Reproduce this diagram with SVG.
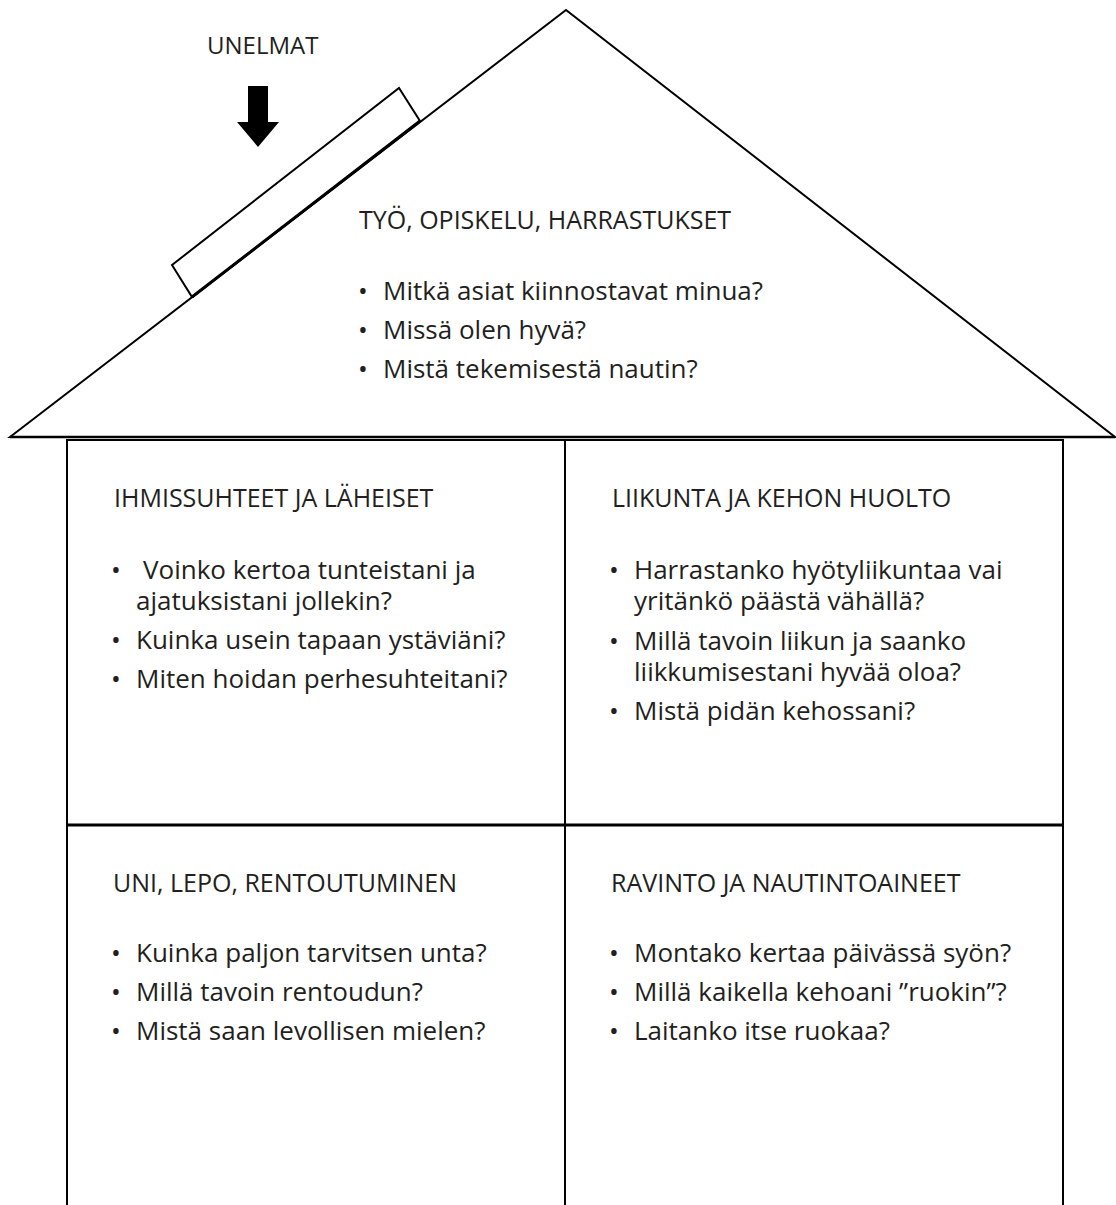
<svg xmlns="http://www.w3.org/2000/svg" width="1116" height="1205" viewBox="0 0 1116 1205">
<style>
.ln{fill:none;stroke:#000;stroke-width:2;stroke-linejoin:miter}
.t{font-family:"Open Sans","Noto Sans","Liberation Sans",sans-serif;font-size:25px;fill:#231f20}
.u{font-family:"Open Sans","Noto Sans","Liberation Sans",sans-serif;font-size:24px;fill:#231f20}
.b{font-family:"Open Sans","Noto Sans","Liberation Sans",sans-serif;font-size:26px;fill:#231f20}
</style>
<rect width="1116" height="1205" fill="#fff"/>
<g id="roof">
<polygon class="ln" points="10,437 566,10 1115,437"/>
<line x1="10" y1="437" x2="1115" y2="437" stroke="#000" stroke-width="2.5"/>
</g>
<g id="board">
<polygon class="ln" points="172,265 399,88 420,121 192,297" fill="#fff"/>
<line x1="192" y1="297" x2="420" y2="121" stroke="#000" stroke-width="3"/>
</g>
<g id="unelmat">
<text class="u" x="207" y="54">UNELMAT</text>
<polygon points="248,86 268,86 268,122 279,122 258,147 237,122 248,122" fill="#000"/>
</g>
<g id="body" class="ln">
<rect x="67" y="440" width="996" height="780"/>
<line x1="565" y1="440" x2="565" y2="1205"/>
<line x1="67" y1="825" x2="1063" y2="825" stroke-width="3"/>
</g>
<g id="tyo">
<text class="t" x="359" y="229">TYÖ, OPISKELU, HARRASTUKSET</text>
<text class="b" x="358" y="300">•</text><text class="b" x="383" y="300">Mitkä asiat kiinnostavat minua?</text>
<text class="b" x="358" y="339">•</text><text class="b" x="383" y="339">Missä olen hyvä?</text>
<text class="b" x="358" y="378">•</text><text class="b" x="383" y="378">Mistä tekemisestä nautin?</text>
</g>
<g id="ihmissuhteet">
<text class="t" x="114" y="507">IHMISSUHTEET JA LÄHEISET</text>
<text class="b" x="111" y="579">•</text><text class="b" x="143" y="579">Voinko kertoa tunteistani ja</text>
<text class="b" x="136" y="610">ajatuksistani jollekin?</text>
<text class="b" x="111" y="649">•</text><text class="b" x="136" y="649">Kuinka usein tapaan ystäviäni?</text>
<text class="b" x="111" y="688">•</text><text class="b" x="136" y="688">Miten hoidan perhesuhteitani?</text>
</g>
<g id="liikunta">
<text class="t" x="612" y="507">LIIKUNTA JA KEHON HUOLTO</text>
<text class="b" x="609" y="579">•</text><text class="b" x="634" y="579">Harrastanko hyötyliikuntaa vai</text>
<text class="b" x="634" y="610">yritänkö päästä vähällä?</text>
<text class="b" x="609" y="650">•</text><text class="b" x="634" y="650">Millä tavoin liikun ja saanko</text>
<text class="b" x="634" y="681">liikkumisestani hyvää oloa?</text>
<text class="b" x="609" y="720">•</text><text class="b" x="634" y="720">Mistä pidän kehossani?</text>
</g>
<g id="uni">
<text class="t" x="113" y="892">UNI, LEPO, RENTOUTUMINEN</text>
<text class="b" x="111" y="962">•</text><text class="b" x="136" y="962">Kuinka paljon tarvitsen unta?</text>
<text class="b" x="111" y="1001">•</text><text class="b" x="136" y="1001">Millä tavoin rentoudun?</text>
<text class="b" x="111" y="1040">•</text><text class="b" x="136" y="1040">Mistä saan levollisen mielen?</text>
</g>
<g id="ravinto">
<text class="t" x="611" y="892">RAVINTO JA NAUTINTOAINEET</text>
<text class="b" x="609" y="962">•</text><text class="b" x="634" y="962">Montako kertaa päivässä syön?</text>
<text class="b" x="609" y="1001">•</text><text class="b" x="634" y="1001">Millä kaikella kehoani ”ruokin”?</text>
<text class="b" x="609" y="1040">•</text><text class="b" x="634" y="1040">Laitanko itse ruokaa?</text>
</g>
</svg>
